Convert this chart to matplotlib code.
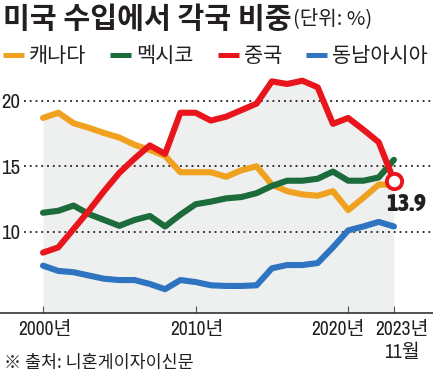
import matplotlib
matplotlib.use("Agg")
import matplotlib.pyplot as plt
from matplotlib import font_manager
from matplotlib.transforms import ScaledTranslation

# data (share of US imports, %)
years = list(range(2000, 2024))
canada = [18.7, 19.1, 18.3, 17.95, 17.55, 17.2, 16.65, 16.25, 15.8, 14.55, 14.55, 14.55,
          14.2, 14.7, 15.0, 13.6, 13.1, 12.85, 12.75, 13.1, 11.65, 12.6, 13.6, 13.6]
mexico = [11.45, 11.6, 12.0, 11.35, 10.9, 10.45, 10.9, 11.2, 10.4, 11.3, 12.1, 12.3,
          12.55, 12.65, 12.95, 13.5, 13.9, 13.9, 14.05, 14.6, 13.9, 13.9, 14.15, 15.5]
china = [8.4, 8.8, 10.2, 11.6, 13.1, 14.5, 15.6, 16.6, 15.95, 19.1, 19.1, 18.5,
         18.8, 19.3, 19.8, 21.5, 21.3, 21.55, 21.05, 18.25, 18.7, 17.8, 16.85, 13.9]
asia = [7.4, 7.0, 6.9, 6.65, 6.4, 6.3, 6.3, 6.0, 5.6, 6.3, 6.15, 5.9,
        5.85, 5.85, 5.9, 7.2, 7.45, 7.45, 7.6, 8.8, 10.1, 10.4, 10.75, 10.4]
names = ["캐나다", "멕시코", "중국", "동남아시아"]
colors = ["#f0a11f", "#1b6b3b", "#e8161c", "#2f74c0"]
xticks = [2000, 2010, 2020, 2023]
xlabels = ["2000년", "2010년", "2020년", "2023년\n11월"]
yticks = [10, 15, 20]


def wnum(w):
    try:
        return int(w)
    except (TypeError, ValueError):
        return {"normal": 400, "regular": 400, "bold": 700}.get(str(w), 400)


# condensed latin faces for the numbers (regular + bold)
cands = [f for f in font_manager.fontManager.ttflist
         if ("Narrow" in f.name or "Condensed" in f.name) and f.style == "normal"]
reg = [f for f in cands if 400 <= wnum(f.weight) < 600]
bld = [f for f in cands if wnum(f.weight) >= 600]
num_reg = (reg[0].name, wnum(reg[0].weight)) if reg else ("DejaVu Sans", 400)
num_bold = (bld[0].name, wnum(bld[0].weight)) if bld else ("DejaVu Sans", 700)
shrink = 1.0 if reg else 0.82

kr = "Noto Sans CJK KR"
plt.rcParams["font.family"] = [kr, "DejaVu Sans"]
ink = "#231f20"

W, H = 433, 381
fig = plt.figure(figsize=(W / 100, H / 100), dpi=100)


def fx(px):
    return px / W


def fy(py):
    return 1 - py / H


def num_font(lbl, size, face=num_reg):
    lbl.set_fontfamily([face[0], kr])
    lbl.set_fontweight(face[1])
    lbl.set_fontsize(size * shrink)


ax = fig.add_axes([0, fy(313), 1, fy(70) - fy(313)])
ybot = 3.78
ax.set_xlim(1997.18, 2025.56)
ax.set_ylim(ybot, 22.37)

# grey area under the top envelope of all lines
top = [max(v) for v in zip(canada, mexico, china, asia)]
ax.fill_between(years, top, ybot, color="#eef0f0", lw=0, zorder=0)

for v in yticks:
    ax.axhline(v, xmin=24 / W, xmax=1, color=ink, lw=1.3, ls=(0, (1, 2.2)), zorder=1)

series = [canada, mexico, asia, china]
order = [0, 1, 3, 2]
for s, i in zip(series, order):
    ax.plot(years, s, color=colors[i], lw=4.4, solid_capstyle="round",
            solid_joinstyle="round", zorder=3 + i, label=names[i])

ax.plot(years[-1], china[-1], "o", ms=11, mfc="white", mec=colors[2], mew=2.8, zorder=8)
val = ax.annotate(f"{china[-1]:.1f}", (years[-1], china[-1]), xytext=(9, -17),
                  textcoords="offset points", ha="center", va="center", color=ink)
num_font(val, 18, num_bold)

for sp in ["top", "right", "left"]:
    ax.spines[sp].set_visible(False)
ax.spines["bottom"].set_color("#333333")
ax.spines["bottom"].set_linewidth(1.2)

ax.set_xticks(xticks)
ax.set_xticklabels(xlabels, linespacing=1.25)
ax.tick_params(axis="x", direction="in", length=5, width=0.8, color="#555555",
               pad=5, labelcolor=ink)
for lbl, dx in zip(ax.get_xticklabels(), [2, 1, -10, 8]):
    num_font(lbl, 14)
    lbl.set_transform(lbl.get_transform() + ScaledTranslation(dx / 100, 0, fig.dpi_scale_trans))

ax.set_yticks(yticks)
ax.set_yticklabels([str(v) for v in yticks])
ax.tick_params(axis="y", length=0, pad=0, labelcolor=ink)
for lbl in ax.get_yticklabels():
    num_font(lbl, 15)
    lbl.set_horizontalalignment("left")
    lbl.set_transform(lbl.get_transform() + ScaledTranslation(1 / 100, 0, fig.dpi_scale_trans))

# title, unit, legend, source
fig.text(fx(3), fy(19), "미국 수입에서 각국 비중", fontsize=21, fontweight="heavy",
         color=ink, va="center", ha="left")
fig.text(fx(293), fy(19), "(단위: %)", fontsize=14.5, color=ink, va="center", ha="left")

handles, labels = ax.get_legend_handles_labels()
hmap = dict(zip(labels, handles))
leg = fig.legend([hmap[n] for n in names], names, loc="center left",
                 bbox_to_anchor=(fx(3), fy(56)), ncol=4, frameon=False, fontsize=15,
                 handlelength=1.0, handletextpad=0.25, columnspacing=1.15,
                 borderpad=0, borderaxespad=0)
for h in leg.get_lines():
    h.set_linewidth(3.6)
    h.set_solid_capstyle("butt")
for t in leg.get_texts():
    t.set_color(ink)

fig.text(fx(4), fy(363), "※ 출처: 니혼게이자이신문", fontsize=12.5, color=ink,
         va="center", ha="left")

fig.savefig("out.png", dpi=100)
